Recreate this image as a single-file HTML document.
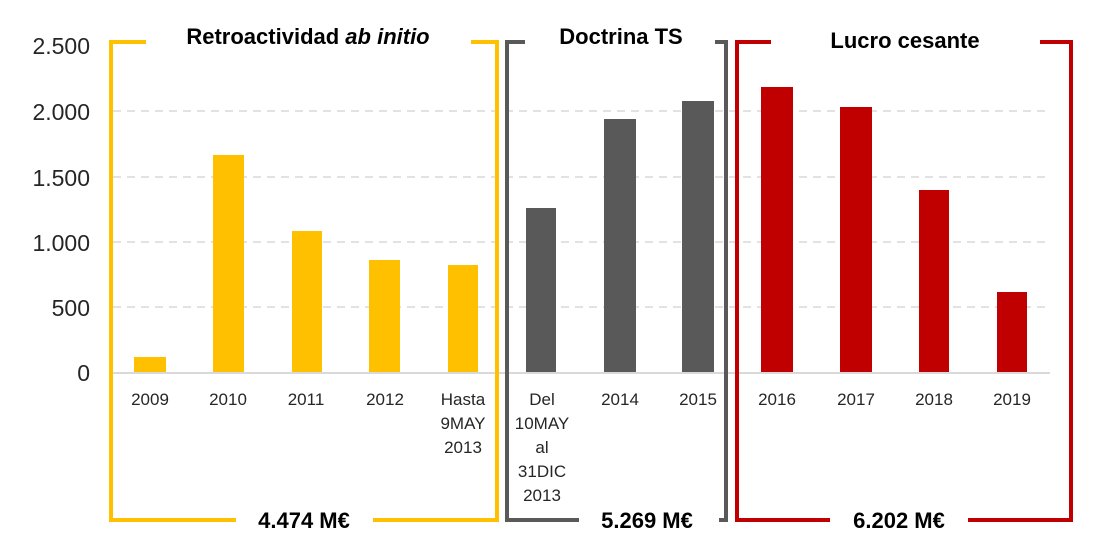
<!DOCTYPE html>
<html><head><meta charset="utf-8"><style>
body{margin:0;background:#fff;}
svg text{font-family:"Liberation Sans",sans-serif;}
</style></head><body>
<svg width="1116" height="551" viewBox="0 0 1116 551" xmlns="http://www.w3.org/2000/svg">
<g stroke="#d9d9d9" stroke-width="1.5" stroke-dasharray="8,6">
<line x1="113" y1="111" x2="1050" y2="111"/>
<line x1="113" y1="177" x2="1050" y2="177"/>
<line x1="113" y1="242" x2="1050" y2="242"/>
<line x1="113" y1="307" x2="1050" y2="307"/>
</g>
<line x1="113" y1="373" x2="1050" y2="373" stroke="#d9d9d9" stroke-width="2"/>
<g font-size="23" fill="#262626" text-anchor="end">
<text x="90" y="54">2.500</text><text x="90" y="120">2.000</text><text x="90" y="186">1.500</text>
<text x="90" y="251">1.000</text><text x="90" y="316">500</text><text x="90" y="381">0</text>
</g>
<g fill="#ffc000">
<rect x="134" y="357" width="32" height="15"/>
<rect x="213" y="155" width="31" height="217"/>
<rect x="292" y="231" width="30" height="141"/>
<rect x="369" y="260" width="31" height="112"/>
<rect x="448" y="265" width="30" height="107"/>
</g>
<g fill="#595959">
<rect x="526" y="208" width="30" height="164"/>
<rect x="604" y="119" width="32" height="253"/>
<rect x="682" y="101" width="32" height="271"/>
</g>
<g fill="#c00000">
<rect x="761" y="87" width="32" height="285"/>
<rect x="840" y="107" width="32" height="265"/>
<rect x="919" y="190" width="30" height="182"/>
<rect x="997" y="292" width="30" height="80"/>
</g>
<g font-size="17" fill="#262626" text-anchor="middle">
<text x="150" y="405">2009</text><text x="228" y="405">2010</text><text x="306" y="405">2011</text><text x="385" y="405">2012</text>
<text x="463" y="405">Hasta</text><text x="463" y="429">9MAY</text><text x="463" y="453">2013</text>
<text x="542" y="405">Del</text><text x="542" y="429">10MAY</text><text x="542" y="453">al</text><text x="542" y="477">31DIC</text><text x="542" y="501">2013</text>
<text x="620" y="405">2014</text><text x="698" y="405">2015</text><text x="777" y="405">2016</text><text x="856" y="405">2017</text><text x="934" y="405">2018</text><text x="1012" y="405">2019</text>
</g>
<g fill="none" stroke-width="4">
<path d="M146 42 H111 V520 H236 M373 520 H497 V42 H471" stroke="#ffc000"/>
<path d="M525 42 H507 V520 H579 M719 520 H726 V42 H715" stroke="#595959"/>
<path d="M771 42 H737 V520 H830 M968 520 H1071 V42 H1040" stroke="#c00000"/>
</g>
<g font-size="22" font-weight="bold" fill="#000" text-anchor="middle">
<text x="308" y="44">Retroactividad <tspan font-style="italic">ab initio</tspan></text>
<text x="621" y="44">Doctrina TS</text>
<text x="905" y="48">Lucro cesante</text>
<text x="304" y="528">4.474 M€</text>
<text x="647" y="528">5.269 M€</text>
<text x="899" y="528">6.202 M€</text>
</g>
</svg>
</body></html>
